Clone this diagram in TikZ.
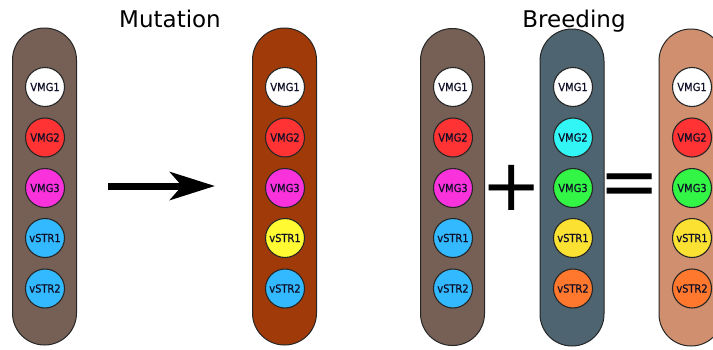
\documentclass[tikz,border=0pt]{standalone}
\usepackage{fontspec}
\setmainfont{DejaVu Sans}
\newfontfamily\condfont[FakeBold=0.6]{DejaVu Sans Condensed}
\usetikzlibrary{arrows.meta}
\definecolor{pillA}{RGB}{118,96,86}
\definecolor{pillB}{RGB}{160,58,8}
\definecolor{pillC}{RGB}{78,100,112}
\definecolor{pillD}{RGB}{208,144,112}
\definecolor{gWhite}{RGB}{255,255,255}
\definecolor{gRed}{RGB}{255,51,51}
\definecolor{gMag}{RGB}{250,50,220}
\definecolor{gBlue}{RGB}{50,185,255}
\definecolor{gYel}{RGB}{255,250,50}
\definecolor{gCyan}{RGB}{50,245,245}
\definecolor{gGreen}{RGB}{50,245,70}
\definecolor{gGold}{RGB}{250,225,50}
\definecolor{gOrange}{RGB}{255,120,45}
\definecolor{txt}{RGB}{15,15,40}
\begin{document}
\begin{tikzpicture}[x=1pt,y=-1pt,
  pill/.style={draw=black!85,line width=1pt,minimum width=64pt,minimum height=317pt,
    rounded corners=31.9pt,inner sep=0pt},
  gene/.style={circle,draw=black!85,line width=1.1pt,minimum size=39pt,inner sep=0pt,
    text=txt,font=\condfont\fontsize{11}{11}\selectfont},
  title/.style={font=\fontsize{23}{23}\selectfont,anchor=base,inner sep=0pt},
  op/.style={font=\fontsize{72}{72}\selectfont,inner sep=0pt}]
\useasboundingbox (0,0) rectangle (713,349);
\begin{scope}
\clip (0,0) rectangle (713,349);
\node[pill,fill=pillA] (p1) at (44.5,186.5) {};
\node[pill,fill=pillB] (p2) at (284.5,186.5) {};
\node[pill,fill=pillA] (p3) at (452.5,187) {};
\node[pill,fill=pillC] (p4) at (572,187.5) {};
\node[pill,fill=pillD] (p5) at (691,187.5) {};

\foreach \pn/\px/\ca/\cb/\cc/\cd/\ce in {a/45/gWhite/gRed/gMag/gBlue/gBlue,
  b/285/gWhite/gRed/gMag/gYel/gBlue,
  c/453/gWhite/gRed/gMag/gBlue/gBlue,
  d/573/gWhite/gCyan/gGreen/gGold/gOrange,
  e/692/gWhite/gRed/gGreen/gGold/gOrange}{
  \node[gene,fill=\ca] (\pn1) at (\px,87) {VMG1};
  \node[gene,fill=\cb] (\pn2) at (\px,137.5) {VMG2};
  \node[gene,fill=\cc] (\pn3) at (\px,188) {VMG3};
  \node[gene,fill=\cd] (\pn4) at (\px,238) {vSTR1};
  \node[gene,fill=\ce] (\pn5) at (\px,288.5) {vSTR2};
}
\end{scope}

\node[title] (tm) at (170,27) {Mutation};
\node[title] (tb) at (574,27) {Breeding};

\coordinate (as) at (108,186);
\coordinate (ae) at (215,186);
\draw[line width=7pt,-{Stealth[length=45pt,width=28pt,inset=12pt]}] (as) -- (ae);

\node[op] (plus) at (512,188) {+};
\node[op] (eq) at (630,190) {=};
\end{tikzpicture}
\end{document}
